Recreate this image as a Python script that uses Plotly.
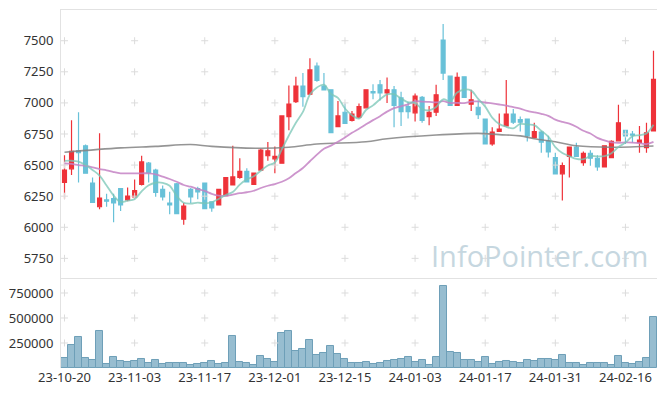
import plotly.graph_objects as go
import pandas as pd

# ---------------- data ----------------
tick_labels = ["23-10-20", "23-11-03", "23-11-17", "23-12-01", "23-12-15",
               "24-01-03", "24-01-17", "24-01-31", "24-02-16"]
tick_index = [0, 10, 20, 30, 40, 50, 60, 70, 80]

opens = [6360, 6470, 6615, 6655, 6355, 6165, 6220, 6230, 6310, 6220,
         6245, 6345, 6515, 6460, 6305, 6195, 6350, 6065, 6305, 6310,
         6355, 6205, 6180, 6255, 6340, 6400, 6450, 6345, 6460, 6575,
         6550, 6515, 6890, 7010, 7135, 7070, 7295, 7135, 7105, 6810,
         6925, 6860, 6885, 6960, 7090, 7145, 7080, 7105, 7040, 6970,
         6920, 7045, 6890, 6925, 7505, 7215, 6980, 7210, 6990, 6965,
         6870, 6670, 6770, 6815, 6910, 6865, 6870, 6720, 6765, 6695,
         6560, 6430, 6570, 6645, 6520, 6595, 6555, 6485, 6560, 6695,
         6780, 6750, 6680, 6640, 6775]
highs = [6580, 6860, 6925, 6665, 6400, 6755, 6270, 6270, 6310, 6320,
         6385, 6575, 6525, 6470, 6335, 6285, 6355, 6195, 6315, 6325,
         6360, 6210, 6310, 6405, 6655, 6555, 6475, 6435, 6630, 6685,
         6650, 6900, 7140, 7210, 7240, 7360, 7325, 7240, 7110, 7015,
         6995, 6935, 6995, 7105, 7150, 7185, 7205, 7135, 7090, 7010,
         7075, 7055, 6975, 7145, 7635, 7220, 7245, 7215, 7105, 7020,
         6870, 6805, 6915, 7185, 6950, 6890, 6875, 6840, 6775, 6735,
         6600, 6520, 6650, 6680, 6610, 6620, 6580, 6655, 6700, 6985,
         6785, 6775, 6815, 6840, 7420]
lows = [6230, 6420, 6360, 6430, 6195, 6145, 6165, 6040, 6130, 6210,
        6240, 6335, 6360, 6245, 6215, 6105, 6110, 6020, 6195, 6225,
        6150, 6125, 6180, 6250, 6340, 6390, 6365, 6340, 6455, 6535,
        6435, 6510, 6780, 7000, 6970, 7065, 7170, 7100, 6760, 6805,
        6830, 6850, 6875, 6960, 7030, 7020, 7000, 6805, 6815, 6875,
        6850, 6840, 6820, 6895, 7185, 6975, 6975, 7040, 6935, 6870,
        6665, 6655, 6765, 6810, 6830, 6770, 6690, 6715, 6600, 6560,
        6425, 6215, 6400, 6565, 6495, 6495, 6455, 6485, 6560, 6690,
        6670, 6680, 6600, 6600, 6770]
closes = [6460, 6610, 6600, 6435, 6200, 6235, 6210, 6195, 6180, 6250,
          6295, 6525, 6440, 6280, 6245, 6180, 6110, 6170, 6245, 6285,
          6150, 6155, 6305, 6400, 6405, 6450, 6365, 6435, 6620, 6615,
          6570, 6895, 6990, 7135, 7050, 7265, 7180, 7105, 6760, 6895,
          6835, 6910, 6970, 7105, 7080, 7080, 7105, 6980, 6930, 6930,
          7055, 6860, 6925, 7065, 7240, 6980, 7205, 7045, 7025, 6905,
          6670, 6765, 6790, 6910, 6845, 6845, 6735, 6770, 6685, 6605,
          6430, 6495, 6645, 6570, 6595, 6555, 6485, 6655, 6690, 6840,
          6735, 6740, 6700, 6760, 7190]
volumes = [103000, 230000, 313000, 103000, 83000, 370000, 40000, 110000, 73000, 60000,
           73000, 90000, 53000, 80000, 43000, 50000, 50000, 50000, 33000, 43000,
           53000, 70000, 43000, 50000, 320000, 60000, 50000, 33000, 120000, 90000,
           60000, 350000, 370000, 170000, 190000, 280000, 130000, 150000, 220000, 140000,
           90000, 50000, 50000, 60000, 40000, 50000, 70000, 80000, 90000, 110000,
           60000, 80000, 30000, 110000, 820000, 160000, 150000, 80000, 80000, 60000,
           110000, 40000, 60000, 70000, 60000, 50000, 80000, 70000, 90000, 90000,
           80000, 130000, 50000, 50000, 30000, 50000, 50000, 50000, 30000, 120000,
           50000, 40000, 60000, 100000, 510000]

# moving-average values that depend on days before the window
ma5_head = [6533, 6535, 6527, 6500]
ma20_head = [6514, 6509, 6500, 6493, 6482, 6468, 6458, 6444, 6434, 6434,
             6434, 6434, 6434, 6426, 6407, 6388, 6366, 6340, 6326]
# long moving average (grey)
ma_long_idx = [0, 8, 13, 18, 21, 28, 32, 36, 43, 46, 53, 59, 62, 65, 67, 70, 73, 78, 84]
ma_long_val = [6603, 6638, 6650, 6665, 6650, 6635, 6643, 6669, 6688, 6712,
               6742, 6755, 6745, 6735, 6712, 6688, 6655, 6643, 6653]

price_ticks = [5750, 6000, 6250, 6500, 6750, 7000, 7250, 7500]
vol_ticks = [250000, 500000, 750000]

# ---------------- derived ----------------
n = len(closes)
idx = list(range(n))
cs = pd.Series(closes, dtype=float)
ma5 = ma5_head + cs.rolling(5).mean().iloc[len(ma5_head):].tolist()
ma20 = ma20_head + cs.rolling(20).mean().iloc[len(ma20_head):].tolist()

UP = "#ee3239"
DOWN = "#68c1d8"
GRID = "#dcdcdc"
FRAME = "#e2e2e2"
FONT = "Noto Sans"

fig = go.Figure()

# grid crosses
gx, gy = [], []
for t in tick_index:
    for p in price_ticks:
        gx.append(t); gy.append(p)
fig.add_trace(go.Scatter(x=gx, y=gy, mode="markers", xaxis="x", yaxis="y",
                         marker=dict(symbol="cross-thin", size=5, line=dict(color=GRID, width=1)),
                         hoverinfo="skip", showlegend=False))
vx, vy = [], []
for t in tick_index:
    for v in vol_ticks:
        vx.append(t); vy.append(v)
fig.add_trace(go.Scatter(x=vx, y=vy, mode="markers", xaxis="x2", yaxis="y2",
                         marker=dict(symbol="cross-thin", size=5, line=dict(color=GRID, width=1)),
                         hoverinfo="skip", showlegend=False))

fig.add_trace(go.Candlestick(
    x=idx, open=opens, high=highs, low=lows, close=closes,
    xaxis="x", yaxis="y", whiskerwidth=0,
    increasing=dict(line=dict(color=UP, width=1.2), fillcolor=UP),
    decreasing=dict(line=dict(color=DOWN, width=1.2), fillcolor=DOWN),
    showlegend=False, hoverinfo="skip"))

fig.add_trace(go.Scatter(x=ma_long_idx, y=ma_long_val, mode="lines", xaxis="x", yaxis="y",
                         line=dict(color="rgba(130,130,130,0.85)", width=1.6, shape="spline"),
                         hoverinfo="skip", showlegend=False))
fig.add_trace(go.Scatter(x=idx, y=ma20, mode="lines", xaxis="x", yaxis="y",
                         line=dict(color="rgba(196,130,196,0.85)", width=1.8, shape="spline"),
                         hoverinfo="skip", showlegend=False))
fig.add_trace(go.Scatter(x=idx, y=ma5, mode="lines", xaxis="x", yaxis="y",
                         line=dict(color="rgba(120,198,182,0.75)", width=1.8, shape="spline"),
                         hoverinfo="skip", showlegend=False))

fig.add_trace(go.Bar(x=idx, y=volumes, xaxis="x2", yaxis="y2",
                     marker=dict(color="rgba(128,175,198,0.82)", line=dict(color="#6e9fb8", width=1)),
                     hoverinfo="skip", showlegend=False))

fig.add_annotation(text="InfoPointer.com", xref="paper", yref="paper",
                   x=0.988, y=0.313, xanchor="right", yanchor="middle", showarrow=False,
                   font=dict(family="Open Sans", size=29, color="#c6d7e0"))

# page body has an 8px margin, so the figure is sized/offset to compensate
split = 0.2514
fig.update_layout(
    width=657, height=388,
    margin=dict(l=53, r=8, t=2, b=28, autoexpand=False),
    paper_bgcolor="white", plot_bgcolor="white",
    bargap=0, boxgap=0.2,
    font=dict(family=FONT, size=13, color="#333333"),
    xaxis=dict(domain=[0, 1], anchor="y", range=[-0.5, n - 0.5], showticklabels=False,
               rangeslider=dict(visible=False), showgrid=False, zeroline=False,
               showline=True, linecolor=FRAME, mirror=True, ticks="", automargin=False),
    yaxis=dict(domain=[split, 1], anchor="x", range=[5592, 7747], tickvals=price_ticks,
               showgrid=False, zeroline=False, showline=True, linecolor=FRAME, mirror=True,
               ticks="", ticklabelstandoff=4, automargin=False),
    xaxis2=dict(domain=[0, 1], anchor="y2", matches="x", range=[-0.5, n - 0.5],
                tickvals=tick_index, ticktext=tick_labels, showgrid=False, zeroline=False,
                showline=False, ticks="", tickfont=dict(size=13), automargin=False),
    yaxis2=dict(domain=[0, split], anchor="x2", range=[0, 900000], tickvals=vol_ticks,
                tickformat="d", showgrid=False, zeroline=False, showline=True,
                linecolor=FRAME, mirror=True, ticks="", ticklabelstandoff=4, automargin=False),
)

fig.write_html("out.html")
